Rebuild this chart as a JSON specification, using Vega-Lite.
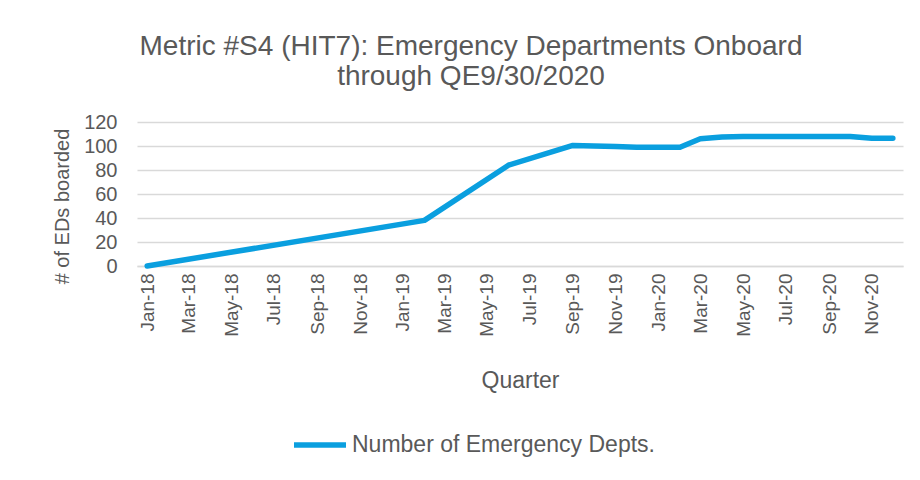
{
  "$schema": "https://vega.github.io/schema/vega-lite/v6.json",
  "autosize": {"type": "none"},
  "width": 766,
  "height": 144,
  "padding": {"left": 137, "top": 122, "right": 17, "bottom": 214},
  "background": "white",
  "title": {
    "text": ["Metric #S4 (HIT7): Emergency Departments Onboard", "through QE9/30/2020"],
    "font": "Liberation Sans",
    "fontSize": 28,
    "fontWeight": "normal",
    "color": "#595959",
    "lineHeight": 30,
    "anchor": "middle",
    "frame": "group",
    "dx": -49,
    "offset": 21
  },
  "config": {
    "view": {"stroke": null},
    "font": "Liberation Sans"
  },
  "data": {
    "values": [
      {"date": "2018-01-01T00:00:00", "eds": 0, "series": "Number of Emergency Depts."},
      {"date": "2019-02-01T00:00:00", "eds": 38, "series": "Number of Emergency Depts."},
      {"date": "2019-06-01T00:00:00", "eds": 84, "series": "Number of Emergency Depts."},
      {"date": "2019-09-01T00:00:00", "eds": 100.5, "series": "Number of Emergency Depts."},
      {"date": "2019-10-01T00:00:00", "eds": 100, "series": "Number of Emergency Depts."},
      {"date": "2019-11-01T00:00:00", "eds": 99.5, "series": "Number of Emergency Depts."},
      {"date": "2019-12-01T00:00:00", "eds": 99, "series": "Number of Emergency Depts."},
      {"date": "2020-01-01T00:00:00", "eds": 99, "series": "Number of Emergency Depts."},
      {"date": "2020-02-01T00:00:00", "eds": 99, "series": "Number of Emergency Depts."},
      {"date": "2020-03-01T00:00:00", "eds": 106, "series": "Number of Emergency Depts."},
      {"date": "2020-04-01T00:00:00", "eds": 107.5, "series": "Number of Emergency Depts."},
      {"date": "2020-05-01T00:00:00", "eds": 108, "series": "Number of Emergency Depts."},
      {"date": "2020-06-01T00:00:00", "eds": 108, "series": "Number of Emergency Depts."},
      {"date": "2020-07-01T00:00:00", "eds": 108, "series": "Number of Emergency Depts."},
      {"date": "2020-08-01T00:00:00", "eds": 108, "series": "Number of Emergency Depts."},
      {"date": "2020-09-01T00:00:00", "eds": 108, "series": "Number of Emergency Depts."},
      {"date": "2020-10-01T00:00:00", "eds": 108, "series": "Number of Emergency Depts."},
      {"date": "2020-11-01T00:00:00", "eds": 106.5, "series": "Number of Emergency Depts."},
      {"date": "2020-12-01T00:00:00", "eds": 106.5, "series": "Number of Emergency Depts."}
    ]
  },
  "mark": {"type": "line", "strokeWidth": 5.5, "strokeCap": "round", "strokeJoin": "round"},
  "encoding": {
    "x": {
      "field": "date",
      "type": "temporal",
      "scale": {"domain": [{"year": 2017, "month": 12, "date": 17, "hours": 12}, {"year": 2020, "month": 12, "date": 15, "hours": 12}]},
      "axis": {
        "title": "Quarter",
        "titleFont": "Liberation Sans",
        "titleFontSize": 23,
        "titleFontWeight": "normal",
        "titleColor": "#595959",
        "titlePadding": 33,
        "format": "%b-%y",
        "tickCount": {"interval": "month", "step": 2},
        "labelAngle": -90,
        "labelAlign": "right",
        "labelBaseline": "middle",
        "labelFont": "Liberation Sans",
        "labelFontSize": 19,
        "labelColor": "#595959",
        "labelPadding": 7,
        "labelOverlap": false,
        "labelFlush": false,
        "ticks": false,
        "grid": false,
        "domain": true,
        "domainColor": "#d9d9d9",
        "domainWidth": 1.5
      }
    },
    "y": {
      "field": "eds",
      "type": "quantitative",
      "scale": {"domain": [0, 120], "nice": false},
      "axis": {
        "title": "# of EDs boarded",
        "titleFont": "Liberation Sans",
        "titleFontSize": 20,
        "titleFontWeight": "normal",
        "titleColor": "#595959",
        "titlePadding": 11,
        "titleY": 84,
        "values": [0, 20, 40, 60, 80, 100, 120],
        "labelFont": "Liberation Sans",
        "labelFontSize": 20,
        "labelColor": "#595959",
        "labelPadding": 20,
        "ticks": false,
        "domain": false,
        "grid": true,
        "gridColor": "#d9d9d9",
        "gridWidth": 1.5
      }
    },
    "color": {
      "field": "series",
      "type": "nominal",
      "scale": {"range": ["#0A9FDF"]},
      "legend": {
        "title": null,
        "orient": "none",
        "legendX": 154,
        "legendY": 294,
        "symbolType": "stroke",
        "symbolSize": 2704,
        "symbolStrokeWidth": 5.5,
        "labelFont": "Liberation Sans",
        "labelFontSize": 23,
        "labelColor": "#595959",
        "labelOffset": 3,
        "labelLimit": 0
      }
    }
  }
}
